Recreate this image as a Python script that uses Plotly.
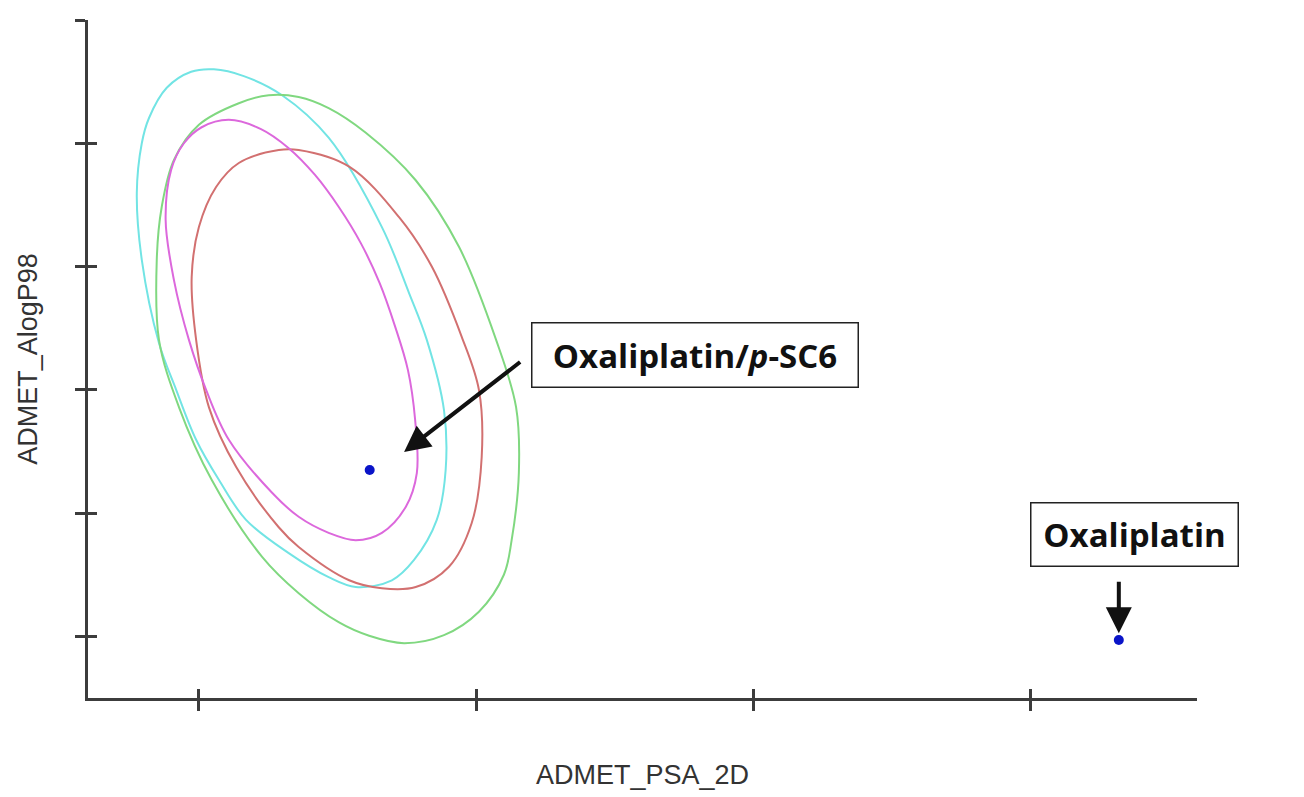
import plotly.graph_objects as go

# ---- data (x = ADMET_PSA_2D, y = ADMET_AlogP98) ----
cyan_x = [2.7, 8.1, 15.0, 23.4, 33.0, 37.9, 41.1, 44.2, 44.5, 42.9, 38.8, 34.8, 28.3, 23.4, 16.2, 8.5, 3.6, -0.5, -4.1, -7.2, -10.3, -11.2, -10.3, -9.0, -5.8, -1.4]
cyan_y = [7.20, 7.09, 6.78, 6.09, 4.64, 3.57, 2.81, 1.67, 0.70, -0.11, -0.76, -1.09, -1.20, -1.04, -0.65, -0.11, 0.54, 1.19, 2.00, 2.76, 4.11, 5.19, 6.00, 6.41, 6.90, 7.16]

green_x = [-6.7, -4.5, 0.0, 7.2, 12.6, 18.0, 23.4, 30.1, 39.1, 46.9, 53.6, 57.2, 57.7, 56.4, 55.0, 50.5, 44.2, 37.0, 30.7, 25.2, 18.0, 11.4, 2.3, -3.6, -7.2, -7.6]
green_y = [4.97, 5.73, 6.30, 6.65, 6.78, 6.75, 6.57, 6.17, 5.40, 4.32, 2.81, 1.72, 0.65, -0.44, -1.00, -1.60, -1.98, -2.11, -1.99, -1.77, -1.30, -0.71, 0.54, 1.72, 2.81, 4.11]

magenta_x = [5.4, 11.2, 16.2, 20.9, 25.2, 29.2, 32.6, 35.3, 37.7, 39.0, 39.3, 37.3, 33.0, 28.3, 23.4, 18.0, 13.2, 5.4, 1.3, -1.8, -4.5, -6.0, -5.0, -2.7, 0.5]
magenta_y = [6.38, 6.23, 5.92, 5.49, 4.97, 4.38, 3.73, 3.05, 2.32, 1.51, 0.65, 0.10, -0.32, -0.44, -0.32, -0.06, 0.33, 1.19, 2.00, 2.81, 3.78, 4.76, 5.57, 6.00, 6.26]

red_x = [14.4, 18.0, 27.1, 36.1, 42.0, 47.4, 50.5, 51.0, 49.2, 45.1, 39.1, 33.0, 27.1, 18.0, 14.4, 6.7, 1.8, -0.5, -1.3, 0.0, 3.1, 7.2]
red_y = [5.89, 5.89, 5.62, 4.80, 4.00, 2.86, 2.00, 0.91, -0.16, -0.87, -1.20, -1.22, -1.09, -0.55, -0.23, 0.75, 1.72, 2.81, 3.83, 4.64, 5.29, 5.68]

compound_names = ["Oxaliplatin/p-SC6", "Oxaliplatin"]
compound_psa = [30.8, 165.9]
compound_alogp = [0.70, -2.06]

x_ticks = [0, 50, 100, 150]
y_ticks = [-2, 0, 2, 4, 6, 8]
x_range = [-20, 180]
y_range = [-3, 8]

# ---- figure ----
fig = go.Figure()

def closed(xs, ys):
    return xs + xs[:1], ys + ys[:1]

for xs, ys, col in [(cyan_x, cyan_y, "#72e4e4"),
                    (green_x, green_y, "#80d880"),
                    (red_x, red_y, "#d27070"),
                    (magenta_x, magenta_y, "#dc68dc")]:
    cx, cy = closed(xs, ys)
    fig.add_trace(go.Scatter(x=cx, y=cy, mode="lines",
                             line=dict(color=col, width=2, shape="spline", smoothing=1.0),
                             hoverinfo="skip", showlegend=False))

fig.add_trace(go.Scatter(x=compound_psa, y=compound_alogp, mode="markers",
                         marker=dict(color="#0a14c8", size=10),
                         text=compound_names, showlegend=False))

# invisible trace on the overlay axes so that the inner tick halves are drawn
fig.add_trace(go.Scatter(x=[x_range[0]], y=[y_range[0]], xaxis="x2", yaxis="y2",
                         mode="markers", marker=dict(opacity=0), hoverinfo="skip",
                         showlegend=False))

axis_col = "#3c3c3c"
title_font = dict(family="Liberation Sans, Arial", size=27, color="#333333")

# the page body adds an 8 px offset, so the figure is 8 px smaller and margins compensate
fig.update_layout(
    width=1296, height=789,
    margin=dict(l=80, r=107, t=12, b=99),
    paper_bgcolor="white", plot_bgcolor="white",
    xaxis=dict(range=x_range, tickvals=x_ticks, showticklabels=False,
               ticks="outside", ticklen=10, tickwidth=2.5, tickcolor=axis_col,
               showline=True, linecolor=axis_col, linewidth=2.5,
               showgrid=False, zeroline=False, automargin=False,
               title=dict(text="ADMET_PSA_2D", font=title_font, standoff=56)),
    yaxis=dict(range=y_range, tickvals=y_ticks, showticklabels=False,
               ticks="outside", ticklen=10, tickwidth=2.5, tickcolor=axis_col,
               showline=True, linecolor=axis_col, linewidth=2.5,
               showgrid=False, zeroline=False, automargin=False,
               title=dict(text="ADMET_AlogP98", font=title_font, standoff=30)),
    xaxis2=dict(range=x_range, tickvals=x_ticks, showticklabels=False, overlaying="x",
                ticks="inside", ticklen=9, tickwidth=2.5, tickcolor=axis_col,
                showline=False, showgrid=False, zeroline=False, automargin=False),
    yaxis2=dict(range=y_range, tickvals=y_ticks, showticklabels=False, overlaying="y",
                ticks="inside", ticklen=9, tickwidth=2.5, tickcolor=axis_col,
                showline=False, showgrid=False, zeroline=False, automargin=False),
)

label_font = dict(family="Open Sans, Noto Sans, Arial", size=33, color="#111111")

# labelled boxes
fig.add_annotation(x=89.5, y=2.56, xref="x", yref="y",
                   text="<b>Oxaliplatin/<i>p</i>-SC6</b>", showarrow=False,
                   font=label_font, bgcolor="white", bordercolor="#222222",
                   borderwidth=1.5, borderpad=0, width=325, height=63)
fig.add_annotation(x=168.8, y=-0.35, xref="x", yref="y",
                   text="<b>Oxaliplatin</b>", showarrow=False,
                   font=label_font, bgcolor="white", bordercolor="#222222",
                   borderwidth=1.5, borderpad=0, width=206, height=62)

# arrows
fig.add_annotation(x=37.0, y=0.99, ax=58.2, ay=2.47, xref="x", yref="y",
                   axref="x", ayref="y", text="", showarrow=True,
                   arrowhead=2, arrowsize=1.3, arrowwidth=4, arrowcolor="#111111")
fig.add_annotation(x=165.9, y=-1.95, ax=165.9, ay=-1.09, xref="x", yref="y",
                   axref="x", ayref="y", text="", showarrow=True,
                   arrowhead=2, arrowsize=1.3, arrowwidth=4, arrowcolor="#111111")

fig.write_html("out.html")
